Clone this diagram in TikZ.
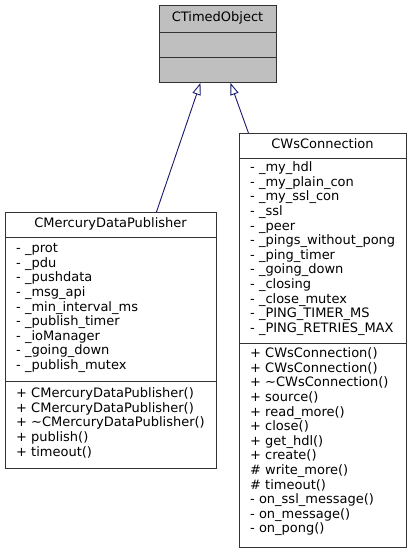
\documentclass[tikz,border=0pt]{standalone}
\usepackage{fontspec}
\setmainfont{DejaVu Sans}
\usetikzlibrary{arrows.meta}
\definecolor{boxline}{HTML}{333333}
\definecolor{edgeblue}{HTML}{191970}
\definecolor{headfill}{HTML}{BFBFBF}
\newcommand{\umlsize}{\fontsize{13}{14.6}\selectfont}
\begin{document}
\begin{tikzpicture}[x=1pt,y=-1pt,
  classbox/.style={draw=boxline, line width=0.9pt, fill=white, rectangle, inner sep=0pt, anchor=north west},
  divider/.style={draw=boxline, line width=0.9pt},
  title/.style={font=\umlsize, inner sep=0pt, anchor=mid},
  member/.style={font=\umlsize, inner sep=0pt, anchor=mid west},
  inherit/.style={draw=edgeblue, line width=0.9pt, -{Triangle[open, length=12pt, width=8.5pt]}}]
\fill[white] (0,0) rectangle (413,552);
\useasboundingbox (0,0) rectangle (413,552);

% CTimedObject
\node[classbox, fill=headfill, minimum width=117pt, minimum height=77pt] (timed) at (159,5) {};
\draw[divider] (159,32) -- (276,32);
\draw[divider] (159,57) -- (276,57);
\node[title] (timedT) at (217.5,19) {CTimedObject};

% CMercuryDataPublisher
\node[classbox, minimum width=211pt, minimum height=256pt] (merc) at (5,212) {};
\draw[divider] (5,237) -- (216,237);
\draw[divider] (5,381) -- (216,381);
\node[title] (mercT) at (110.5,225) {CMercuryDataPublisher};
\foreach \t [count=\i from 0] in {- \_prot, - \_pdu, - \_pushdata, - \_msg\_api, - \_min\_interval\_ms, - \_publish\_timer, - \_ioManager, - \_going\_down, - \_publish\_mutex}
  \node[member] (ma\i) at (16,250+\i*14.6) {\t};
\foreach \t [count=\i from 0] in {+ CMercuryDataPublisher(), + CMercuryDataPublisher(), + \textasciitilde CMercuryDataPublisher(), + publish(), + timeout()}
  \node[member] (mm\i) at (16,395+\i*14.6) {\t};

% CWsConnection
\node[classbox, minimum width=167pt, minimum height=414pt] (wsc) at (239,133) {};
\draw[divider] (239,158) -- (406,158);
\draw[divider] (239,343) -- (406,343);
\node[title] (wscT) at (322.5,146) {CWsConnection};
\foreach \t [count=\i from 0] in {- \_my\_hdl, - \_my\_plain\_con, - \_my\_ssl\_con, - \_ssl, - \_peer, - \_pings\_without\_pong, - \_ping\_timer, - \_going\_down, - \_closing, - \_close\_mutex, - \_PING\_TIMER\_MS, - \_PING\_RETRIES\_MAX}
  \node[member] (wa\i) at (250,169+\i*14.6) {\t};
\foreach \t [count=\i from 0] in {+ CWsConnection(), + CWsConnection(), + \textasciitilde CWsConnection(), + source(), + read\_more(), + close(), + get\_hdl(), + create(), \# write\_more(), \# timeout(), - on\_ssl\_message(), - on\_message(), - on\_pong()}
  \node[member] (wm\i) at (250,355+\i*14.6) {\t};

% inheritance connectors
\draw[inherit] ([xshift=45.5pt]merc.north) -- ([xshift=-17.5pt]timed.south);
\draw[inherit] ([xshift=-74.5pt]wsc.north) -- ([xshift=12.5pt]timed.south);
\end{tikzpicture}
\end{document}
